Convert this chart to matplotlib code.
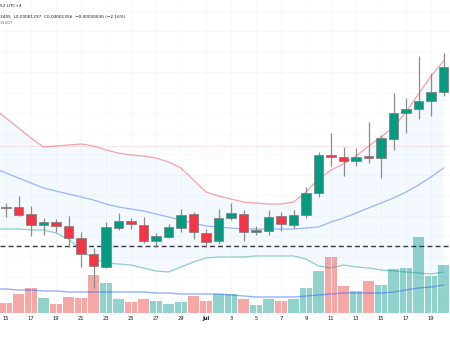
import matplotlib
matplotlib.use("Agg")
import matplotlib.pyplot as plt
import numpy as np
import pandas as pd

# Daily candles, 15 Jun - 20 Jul (prices in units of 1e-8)
dates = pd.date_range("2024-06-15", "2024-07-20", freq="D")
opens = [1343, 1343, 1336, 1325, 1328, 1324, 1312, 1296, 1283, 1322, 1329, 1325,
         1309, 1313, 1322, 1336, 1317, 1309, 1332, 1336, 1318, 1319, 1334, 1325,
         1335, 1357, 1395, 1393, 1389, 1394, 1392, 1411, 1437, 1441, 1449, 1458]
highs = [1347, 1354, 1344, 1332, 1331, 1334, 1318, 1302, 1328, 1337, 1332, 1333,
         1317, 1326, 1341, 1338, 1321, 1341, 1347, 1340, 1324, 1340, 1338, 1340,
         1363, 1398, 1417, 1403, 1402, 1428, 1415, 1457, 1452, 1494, 1477, 1497]
lows = [1333, 1334, 1314, 1315, 1318, 1303, 1283, 1262, 1282, 1320, 1321, 1307,
        1303, 1312, 1318, 1311, 1303, 1306, 1330, 1309, 1315, 1315, 1319, 1322,
        1332, 1353, 1384, 1374, 1384, 1387, 1372, 1400, 1417, 1431, 1434, 1454]
closes = [1342, 1335, 1325, 1328, 1324, 1312, 1296, 1284, 1323, 1329, 1326, 1309,
          1314, 1323, 1335, 1318, 1308, 1332, 1337, 1318, 1320, 1333, 1326, 1335,
          1357, 1395, 1393, 1389, 1393, 1392, 1412, 1437, 1441, 1449, 1458, 1483]
volumes = [10, 19, 25, 15, 9, 16, 15, 38, 30, 14, 11, 14, 12, 9, 11, 17, 12, 19,
           19, 14, 8, 14, 12, 14, 25, 42, 56, 27, 22, 32, 28, 44, 45, 76, 37, 48]

# Indicator lines start one day earlier (14 Jun)
bb_upper = [1442, 1432, 1422, 1412, 1403, 1404, 1405, 1406, 1404, 1400, 1397, 1395,
            1394, 1392, 1388, 1382, 1370, 1358, 1354, 1351, 1348, 1347, 1346, 1346,
            1348, 1358, 1371, 1380, 1386, 1394, 1404, 1413, 1423, 1438, 1456, 1474, 1489]
bb_basis = [1382, 1377, 1372, 1367, 1362, 1359, 1356, 1353, 1350, 1346, 1343, 1341,
            1339, 1336, 1333, 1330, 1327, 1324, 1323, 1322, 1321, 1321, 1321, 1321,
            1321, 1322, 1323, 1328, 1332, 1337, 1342, 1347, 1352, 1358, 1365, 1373, 1382]
bb_lower = [1321, 1321, 1321, 1320, 1320, 1317, 1311, 1300, 1291, 1287, 1286, 1285,
            1282, 1279, 1278, 1283, 1288, 1292, 1293, 1293, 1293, 1294, 1294, 1294,
            1294, 1291, 1284, 1282, 1285, 1283, 1282, 1280, 1279, 1278, 1277, 1276, 1278]
vol_ma = [24, 24, 23, 23, 22, 22, 21, 21, 21, 21, 21, 21, 21, 20, 20, 19, 19, 19,
          19, 18, 17, 16, 16, 16, 16, 17, 18, 19, 20, 20, 20, 20, 21, 23, 25, 26, 28]

support_level = 1304
prev_close_level = 1404

GREEN = "#089981"
RED = "#f23645"
GRID = "#f6f7fa"

x = np.arange(len(dates))
x_ind = np.arange(-1, len(dates))
opens = np.array(opens)
closes = np.array(closes)
up = closes >= opens

fig = plt.figure(figsize=(4.5, 3.38), dpi=100)
ax_vol = fig.add_axes([0, 25 / 338, 1, 313 / 338])
ax = ax_vol.twinx()

# grid (kept under the volume bars)
tick_pos = x[::2]
tick_lab = [d.strftime("%b") if d.day == 1 else str(d.day) for d in dates[::2]]
ax_vol.set_xticks(tick_pos, tick_lab)
ax_vol.grid(axis="x", color=GRID, lw=0.6)
for lvl in np.arange(1237 + 15.5, 1550, 20.5):
    ax_vol.plot([-1, 37], [lvl, lvl], color=GRID, lw=0.6, transform=ax.transData, zorder=0)

# volume
vol_colors = [(0.149, 0.651, 0.604, 0.5) if u else (0.937, 0.325, 0.314, 0.5) for u in up]
ax_vol.bar(x, volumes, width=0.93, color=vol_colors, lw=0, zorder=1)
ax_vol.plot(x_ind, vol_ma, color="#2962ff", alpha=0.5, lw=1, zorder=2)

# bollinger bands
ax.fill_between(x_ind, bb_upper, bb_lower, color="#2196f3", alpha=0.05, lw=0, zorder=0)
ax.plot(x_ind, bb_upper, color=RED, alpha=0.45, lw=0.9, zorder=1)
ax.plot(x_ind, bb_basis, color="#2962ff", alpha=0.45, lw=0.9, zorder=1)
ax.plot(x_ind, bb_lower, color=GREEN, alpha=0.45, lw=0.9, zorder=1)

ax.axhline(support_level, color="#363a45", lw=1.0, dashes=(3.6, 2.2), zorder=2)
ax.axhline(prev_close_level, color=RED, alpha=0.3, lw=0.7, dashes=(1, 1.5), zorder=2)

# candles
ax.vlines(x, lows, highs, color="#8c8c8c", lw=0.9, zorder=3)
body_h = np.maximum(np.abs(closes - opens), 1)
ax.bar(x, body_h, bottom=np.minimum(opens, closes), width=0.74,
       color=[GREEN if u else RED for u in up], edgecolor="#7a7a7a", lw=0.5, zorder=4)

ax.set_xlim(-0.48, 35.52)
ax_vol.set_xlim(-0.48, 35.52)
ax.set_ylim(1237, 1550)
ax_vol.set_ylim(0, 313)

for a in (ax, ax_vol):
    for s in a.spines.values():
        s.set_visible(False)
    a.tick_params(axis="y", left=False, right=False, labelleft=False, labelright=False)
ax_vol.tick_params(axis="x", length=0, pad=2.5, labelsize=3.7, labelcolor="#131722")
for t in ax_vol.get_xticklabels():
    if not t.get_text().isdigit():
        t.set_fontweight("bold")

# legend header (cut off on the left)
fig.text(0.0, 1 - 6 / 338, "52 UTC+4", fontsize=3.1, color="#131722", va="center")
fig.text(0.0, 1 - 16.5 / 338, "3405  L0.00001297  C0.00001356  \u22120.00000030 (\u22122.16%)",
         fontsize=3.1, color="#131722", va="center")
fig.text(0.0, 1 - 23.5 / 338, "31107", fontsize=3.1, color=GREEN, va="center")

fig.savefig("out.png", dpi=100)
